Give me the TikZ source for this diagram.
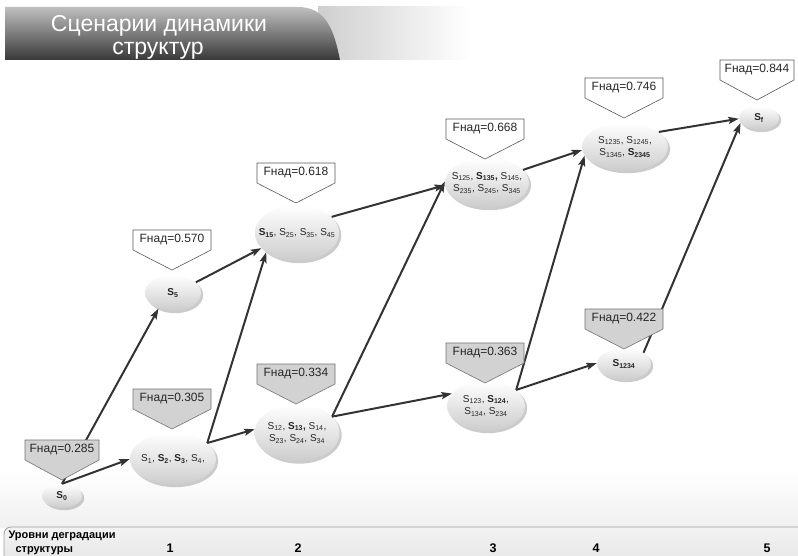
\documentclass[tikz,border=0pt]{standalone}
\usepackage{fontspec}
\setmainfont{Liberation Sans}
\usetikzlibrary{shapes.geometric,arrows.meta,shadows,calc}
\newcommand\Sn[1]{S\textsubscript{#1}}
\newcommand\Sbf[1]{\textbf{S\textsubscript{#1}}}
\tikzset{
  st/.style={ellipse, inner sep=0pt, top color=white, bottom color=gray!40,
    drop shadow={shadow xshift=2.2pt, shadow yshift=-2.2pt, opacity=0.5, fill=gray!80}},
  txt/.style={font=\fontsize{10}{12.5}\selectfont, align=center, inner sep=0pt, text=black!85},
  conn/.style={draw=black!80, line width=2pt, -{Stealth[length=10.5pt,width=7pt,inset=2pt]}},
  lab/.style={inner sep=0pt, font=\fontsize{12}{12}\selectfont, text=black!85},
  calloutw/.style={draw=black!65, fill=white, line width=0.6pt},
  calloutg/.style={draw=black!55, fill=gray!35, line width=0.6pt},
}
% name, cx, cy, half-width, text, style
\newcommand\fcallout[6]{%
  \path[#6] ({#2-#4},{#3-10}) -- ({#2+#4},{#3-10}) -- ({#2+#4},{#3+10})
     -- (#2,{#3+30}) -- ({#2-#4},{#3+10}) -- cycle;
  \node[lab] (#1) at (#2,#3) {#5};
}
\begin{document}
\begin{tikzpicture}[x=1pt,y=-1pt]
\useasboundingbox (0,0) rectangle (798,556);
\clip (0,0) rectangle (798,556);
\fill[white] (0,0) rectangle (798,556);
% title band
\shade[left color=gray!38, right color=white] (318,7) rectangle (470,60);
\shade[top color=gray!50, bottom color=black!78] (5,7) -- (298,7) .. controls (326,7) and (334,30) .. (340,60) -- (5,60) -- cycle;
\node[anchor=base, text=white, font=\fontsize{23}{24}\selectfont] (t1) at (159,32) {Сценарии динамики};
\node[anchor=base, text=white, font=\fontsize{23}{24}\selectfont] (t2) at (158,55) {структур};
% faint floor
\shade[top color=white, bottom color=gray!12] (0,470) rectangle (798,527);
% bottom bar
\draw[draw=gray!75, top color=gray!10, bottom color=gray!22, rounded corners=7pt, line width=0.8pt] (4,527) rectangle (812,575);
\node[anchor=base west, font=\bfseries\fontsize{11}{12}\selectfont] (lv1) at (5,538) {Уровни деградации};
\node[anchor=base west, font=\bfseries\fontsize{11}{12}\selectfont] (lv2) at (12,552) {структуры};
\foreach \n/\x in {1/170,2/298,3/493,4/596,5/767}
  \node[anchor=base, font=\bfseries\fontsize{12.5}{13}\selectfont] (lvl\n) at (\x,552) {\n};
% state nodes
\node[st, minimum width=40pt, minimum height=24pt, label={[txt]center:{\Sbf{0}}}] (s0) at (62,496) {};
\node[st, minimum width=86pt, minimum height=52pt, label={[txt]center:{\Sn{1}, \Sbf{2}, \Sbf{3}, \Sn{4},}}] (s1) at (173,459) {};
\node[st, minimum width=56pt, minimum height=36pt, label={[txt]center:{\Sbf{5}}}] (s5) at (173,293) {};
\node[st, minimum width=84pt, minimum height=56pt, label={[txt]center:{\Sbf{15}, \Sn{25}, \Sn{35}, \Sn{45}}}] (s15) at (297,233) {};
\node[st, minimum width=85pt, minimum height=57pt, label={[txt]center:{\Sn{12}, \textbf{\Sn{13},} \Sn{14},\\ \Sn{23}, \Sn{24}, \Sn{34}}}] (s12) at (297,433) {};
\node[st, minimum width=84pt, minimum height=50pt, label={[txt]center:{\Sn{125}, \textbf{\Sn{135},} \Sn{145},\\ \Sn{235}, \Sn{245}, \Sn{345}}}] (s125) at (487,183) {};
\node[st, minimum width=78pt, minimum height=50pt, label={[txt]center:{\Sn{123}, \Sbf{124},\\ \Sn{134}, \Sn{234}}}] (s123) at (486,406) {};
\node[st, minimum width=86pt, minimum height=48pt, label={[txt]center:{\Sn{1235}, \Sn{1245},\\ \Sn{1345}, \Sbf{2345}}}] (s1235) at (625,147) {};
\node[st, minimum width=54pt, minimum height=32pt, label={[txt]center:{\Sbf{1234}}}] (s1234) at (624,364) {};
\node[st, minimum width=40pt, minimum height=24pt, label={[txt]center:{\Sbf{f}}}] (sf) at (759,118) {};
% connectors
\draw[conn] (s0.north) -- (s5.227);
\draw[conn] (s0.north) -- (s1.180);
\draw[conn] (s1.25) -- (s15.212);
\draw[conn] (s1.25) -- (s12.175);
\draw[conn] (s5.25) -- (s15.203);
\draw[conn] (s15.25) -- (s125.183);
\draw[conn] (s12.25) -- (s125.178);
\draw[conn] (s12.25) -- (s123.160);
\draw[conn] (s125.20) -- (s1235.184);
\draw[conn] (s123.28) -- (s1235.192);
\draw[conn] (s123.28) -- (s1234.178);
\draw[conn] (s1235.24) -- (sf.182);
\draw[conn] (s1234.30) -- (sf.195);
% callouts
\fcallout{f285}{62}{450}{37}{Fнад=0.285}{calloutg}
\fcallout{f305}{172}{399}{39}{Fнад=0.305}{calloutg}
\fcallout{f570}{172}{240}{39}{Fнад=0.570}{calloutw}
\fcallout{f618}{296}{173}{39}{Fнад=0.618}{calloutw}
\fcallout{f334}{296}{374}{39}{Fнад=0.334}{calloutg}
\fcallout{f668}{485}{129}{39}{Fнад=0.668}{calloutw}
\fcallout{f363}{485}{353}{39}{Fнад=0.363}{calloutg}
\fcallout{f746}{624}{88}{39}{Fнад=0.746}{calloutw}
\fcallout{f422}{624}{319}{39}{Fнад=0.422}{calloutg}
\fcallout{f844}{757}{70}{37}{Fнад=0.844}{calloutw}
\end{tikzpicture}
\end{document}
